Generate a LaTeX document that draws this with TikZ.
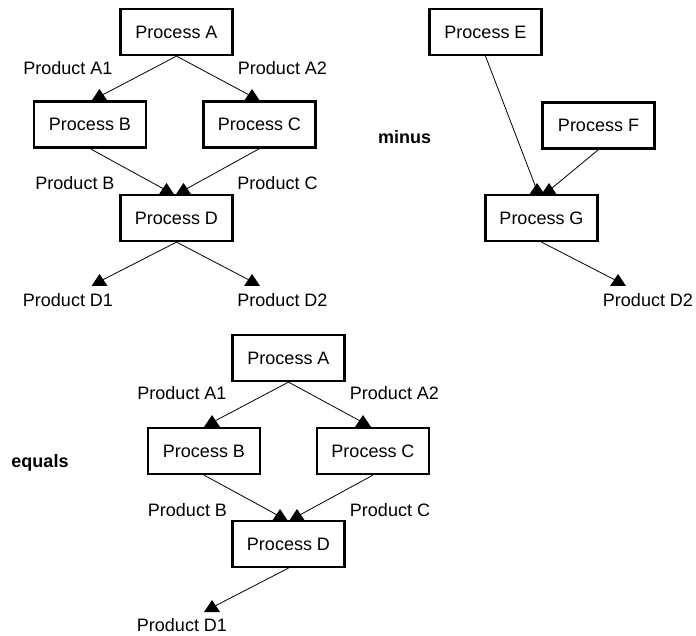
\documentclass[tikz,border=0pt]{standalone}
\usepackage{fontspec}
\setmainfont{Liberation Sans}
\begin{document}
\begin{tikzpicture}[x=1pt,y=-1pt,
  txt/.style={font=\fontsize{18}{21}\selectfont, inner sep=0pt, text height=13pt, text depth=0pt},
  procbox/.style={txt, draw=black, line width=2.2pt, minimum width=112pt, minimum height=46pt},
  prodlabel/.style={txt},
  oplabel/.style={txt, font=\fontsize{18}{21}\selectfont\bfseries},
  flow/.style={draw=black, line width=0.8pt},
  tri/.pic={\fill[black] (0,-7.5) -- (8,4.5) -- (-8,4.5) -- cycle;}
]
\useasboundingbox[fill=white] (0,0) rectangle (696,636);

% ---- first network ----
\node[procbox] (a1) at (176.5,32) {Process A};
\node[procbox] (b1) at (90,124.5) {Process B};
\node[procbox] (c1) at (259.5,124.5) {Process C};
\node[procbox] (d1) at (176.5,218) {Process D};

\coordinate (ta1b) at (99.5,96.5);
\coordinate (ta1c) at (252,96.5);
\coordinate (tb1d) at (166.5,190.5);
\coordinate (tc1d) at (183.5,190.5);
\coordinate (td1x) at (99.5,281.5);
\coordinate (td1y) at (252,281.5);

\draw[flow] (a1.south) -- (ta1b);
\draw[flow] (a1.south) -- (ta1c);
\draw[flow] (b1.south) -- (tb1d);
\draw[flow] (c1.south) -- (tc1d);
\draw[flow] (d1.south) -- (td1x);
\draw[flow] (d1.south) -- (td1y);
\foreach \p in {ta1b,ta1c,tb1d,tc1d,td1x,td1y} \pic at (\p) {tri};

\node[prodlabel] (la1) at (68,68) {Product A1};
\node[prodlabel] (la2) at (282.5,68) {Product A2};
\node[prodlabel] (lb) at (75,183) {Product B};
\node[prodlabel] (lc) at (277.5,183) {Product C};
\node[prodlabel] (ld1) at (68,300) {Product D1};
\node[prodlabel] (ld2) at (282.5,300) {Product D2};

% ---- subtracted network ----
\node[oplabel] (minus) at (404.5,137) {minus};
\node[procbox] (e2) at (485.5,32) {Process E};
\node[procbox] (f2) at (598.5,125.5) {Process F};
\node[procbox] (g2) at (541.5,218) {Process G};

\coordinate (te2g) at (537,190.5);
\coordinate (tf2g) at (549,190.5);
\coordinate (tg2x) at (618,281.5);

\draw[flow] (e2.south) -- (te2g);
\draw[flow] (f2.south) -- (tf2g);
\draw[flow] (g2.south) -- (tg2x);
\foreach \p in {te2g,tf2g,tg2x} \pic at (\p) {tri};

\node[prodlabel] (lg) at (648,300) {Product D2};

% ---- resulting network ----
\node[oplabel] (equals) at (40,461) {equals};
\node[procbox] (a3) at (288.5,358) {Process A};
\node[procbox] (b3) at (204,451) {Process B};
\node[procbox] (c3) at (373,451) {Process C};
\node[procbox] (d3) at (288.5,544) {Process D};

\coordinate (ta3b) at (212,422.5);
\coordinate (ta3c) at (363,422.5);
\coordinate (tb3d) at (280,516.5);
\coordinate (tc3d) at (297,516.5);
\coordinate (td3x) at (212,607.5);

\draw[flow] (a3.south) -- (ta3b);
\draw[flow] (a3.south) -- (ta3c);
\draw[flow] (b3.south) -- (tb3d);
\draw[flow] (c3.south) -- (tc3d);
\draw[flow] (d3.south) -- (td3x);
\foreach \p in {ta3b,ta3c,tb3d,tc3d,td3x} \pic at (\p) {tri};

\node[prodlabel] (ma1) at (182,393) {Product A1};
\node[prodlabel] (ma2) at (394.5,393) {Product A2};
\node[prodlabel] (mb) at (187.5,510) {Product B};
\node[prodlabel] (mc) at (390,510) {Product C};
\node[prodlabel] (md1) at (182,625) {Product D1};
\end{tikzpicture}
\end{document}
